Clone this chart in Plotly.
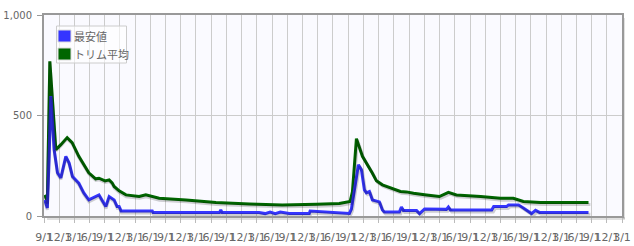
import pandas as pd
import plotly.graph_objects as go

# ---- data ----
trim_dates = ["2014-09-06", "2014-09-21", "2014-10-06", "2014-11-11", "2014-12-11", "2015-01-18",
              "2015-02-17", "2015-03-29", "2015-05-28", "2015-07-08", "2015-07-28", "2015-09-03",
              "2015-09-27", "2015-10-15", "2015-10-27", "2015-11-26", "2016-01-06", "2016-03-25",
              "2016-05-04", "2016-07-23", "2017-01-01", "2017-06-29", "2018-01-16", "2018-08-01",
              "2019-02-21", "2019-07-09", "2019-09-12", "2019-09-26", "2019-10-20", "2019-11-25",
              "2020-01-24", "2020-02-17", "2020-03-24", "2020-05-11", "2020-07-10", "2020-08-15",
              "2020-09-27", "2020-12-14", "2021-03-01", "2021-04-24", "2021-06-11", "2021-11-04",
              "2022-03-02", "2022-05-19", "2022-07-18", "2022-10-29", "2023-03-15", "2023-08-13"]
trim_values = [105, 72, 770, 330, 355, 390,
               365, 297, 215, 185, 188, 175,
               180, 165, 147, 125, 105, 97,
               105, 88, 80, 67, 60, 55,
               58, 62, 72, 120, 385, 297,
               213, 175, 155, 140, 122, 120,
               113, 105, 97, 118, 105, 97,
               88, 88, 72, 67, 67, 67]

low_dates = ["2014-09-06", "2014-09-21", "2014-10-02", "2014-10-12", "2014-11-01", "2014-11-21",
             "2014-12-11", "2015-01-10", "2015-01-30", "2015-02-19", "2015-03-29", "2015-04-28",
             "2015-05-28", "2015-07-08", "2015-07-28", "2015-09-07", "2015-09-27", "2015-10-27",
             "2015-11-14", "2015-11-26", "2015-12-08", "2016-06-12", "2016-06-17", "2017-07-20",
             "2017-07-28", "2017-08-05", "2018-03-15", "2018-04-20", "2018-05-20", "2018-06-20",
             "2018-07-20", "2018-09-12", "2019-01-10", "2019-01-15", "2019-09-08", "2019-09-20",
             "2019-10-14", "2019-11-01", "2019-11-19", "2019-12-07", "2019-12-19", "2020-01-06",
             "2020-01-24", "2020-03-06", "2020-03-24", "2020-04-05", "2020-07-04", "2020-07-16",
             "2020-07-28", "2020-10-15", "2020-11-02", "2020-12-02", "2021-04-12", "2021-04-24",
             "2021-05-06", "2022-01-09", "2022-01-21", "2022-04-08", "2022-04-20", "2022-06-19",
             "2022-07-18", "2022-08-18", "2022-09-05", "2022-09-29", "2022-10-23", "2023-08-13"]
low_values = [80, 40, 300, 597, 330, 215,
              190, 297, 263, 197, 163, 115,
              80, 97, 105, 47, 97, 80,
              47, 47, 25, 25, 17, 17,
              30, 17, 17, 12, 20, 12,
              20, 13, 13, 25, 13, 35,
              172, 255, 230, 130, 115, 122,
              80, 70, 30, 20, 20, 45,
              27, 27, 12, 35, 33, 45,
              30, 30, 47, 47, 55, 55,
              40, 22, 12, 28, 18, 18]

series_names = ["最安値", "トリム平均"]
tick_dates = pd.date_range("2014-09-01", "2024-03-01", freq="3MS")
tick_text = [f"{d.month}/1" for d in tick_dates]
y_ticks = [0, 500, 1000]

x_start, x_end = pd.Timestamp("2014-09-01"), pd.Timestamp("2024-03-01")

BLUE = "#3535ff"
GREEN = "#006600"
SHADOW = "rgba(0,0,0,0.18)"

L, R, T, B = 44, 12, 15, 30
W, H = 634, 246
pw, ph = W - L - R, H - T - B
sx, sy = 2, 2  # shadow offset in px

fig = go.Figure()

# shadow traces (same data, drawn through offset axes)
for xs, ys in [(trim_dates, trim_values), (low_dates, low_values)]:
    fig.add_trace(go.Scatter(x=xs, y=ys, mode="lines", xaxis="x2", yaxis="y2",
                             line=dict(color=SHADOW, width=3), showlegend=False,
                             hoverinfo="skip"))

fig.add_trace(go.Scatter(x=trim_dates, y=trim_values, mode="lines",
                         line=dict(color=GREEN, width=3), showlegend=False, name=series_names[1]))
fig.add_trace(go.Scatter(x=low_dates, y=low_values, mode="lines",
                         line=dict(color=BLUE, width=3), showlegend=False, name=series_names[0]))

span = x_end - x_start
x2_end = x_start + span * ((pw - sx) / pw)


def px_x(p):
    return (p - L) / pw


def px_y(p):
    return (T + ph - p) / ph


shapes = [
    # frame shadow
    dict(type="rect", xref="paper", yref="paper", x0=px_x(622), x1=px_x(625),
         y0=px_y(219), y1=px_y(18), fillcolor="rgba(0,0,0,0.12)", line_width=0, layer="below"),
    dict(type="rect", xref="paper", yref="paper", x0=px_x(47), x1=px_x(625),
         y0=px_y(220), y1=px_y(217), fillcolor="rgba(0,0,0,0.12)", line_width=0, layer="below"),
    # legend box
    dict(type="rect", xref="paper", yref="paper", x0=px_x(56.5), x1=px_x(126.5),
         y0=px_y(63), y1=px_y(26), fillcolor="rgba(255,255,255,0.6)",
         line=dict(color="#cccccc", width=1)),
]
annotations = []
for i, (name, col) in enumerate(zip(series_names, [BLUE, GREEN])):
    top = 30 + i * 18
    shapes.append(dict(type="rect", xref="paper", yref="paper", x0=px_x(58), x1=px_x(71),
                       y0=px_y(top + 12), y1=px_y(top), fillcolor=col,
                       line=dict(color="#dddddd", width=1)))
    annotations.append(dict(x=px_x(72), y=px_y(top + 6), xref="paper", yref="paper",
                            text=name, showarrow=False, xanchor="left", yanchor="middle",
                            font=dict(family="Noto Sans CJK JP", size=11, color="#666666")))

fig.update_layout(
    width=W, height=H,
    margin=dict(l=L, r=R, t=T, b=B, autoexpand=False),
    paper_bgcolor="white",
    plot_bgcolor="#fafaff",
    showlegend=False,
    font=dict(family="DejaVu Sans", size=10, color="#666666"),
    xaxis=dict(type="date", range=[x_start, x_end], tickvals=list(tick_dates), ticktext=tick_text,
               tickangle=0, showgrid=True, gridcolor="#cccccc", gridwidth=1,
               showline=True, linecolor="#999999", linewidth=2, mirror=True,
               ticks="outside", ticklen=5, tickcolor="#bbbbbb", zeroline=False,
               ticklabelstandoff=5, automargin=False,
               tickfont=dict(family="DejaVu Sans", size=11, color="#666666")),
    yaxis=dict(range=[0, 1000], tickvals=y_ticks, tickformat=",", showgrid=True,
               gridcolor="#cccccc", showline=True, linecolor="#999999", linewidth=2, mirror=True,
               ticks="outside", ticklen=5, tickcolor="#999999", zeroline=False,
               ticklabelstandoff=3, automargin=False),
    xaxis2=dict(type="date", overlaying="x", domain=[sx / pw, 1], range=[x_start, x2_end],
                visible=False, anchor="y2"),
    yaxis2=dict(overlaying="y", domain=[0, 1 - sy / ph], range=[sy * 1000 / ph, 1000],
                visible=False, anchor="x2"),
    shapes=shapes,
    annotations=annotations,
)

fig.write_html("out.html")
